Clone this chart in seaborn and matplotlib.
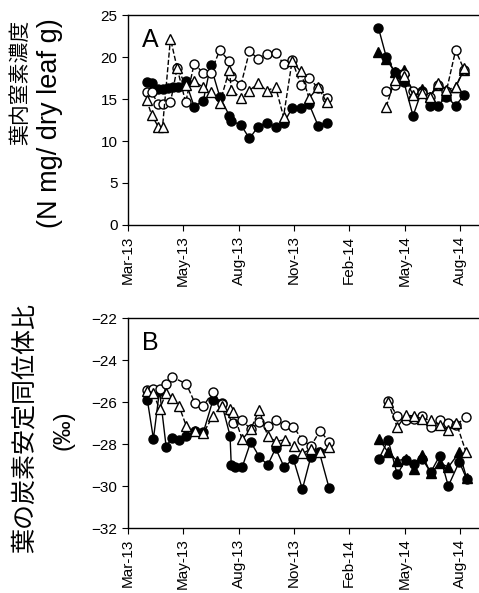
import numpy as np
import pandas as pd
import seaborn as sns
import matplotlib.pyplot as plt
import matplotlib.dates as mdates

# days since 1 Mar 2013
start = pd.Timestamp('2013-03-01')

# --- panel A : leaf nitrogen (N mg / dry leaf g) ---
A_fc_d13 = [31, 39, 50, 57, 66, 74, 83, 95, 109, 124, 136, 151, 167, 170, 186, 200, 214, 228, 243, 256, 270, 284, 298, 313, 327]
A_fc_v13 = [17.0, 16.9, 16.2, 16.2, 16.3, 16.4, 16.4, 17.1, 14.1, 14.8, 19.0, 15.3, 13.0, 12.4, 11.9, 10.3, 11.7, 12.2, 11.7, 12.1, 13.9, 13.9, 14.4, 11.8, 12.2]
A_oc_d13 = [31, 39, 50, 57, 70, 81, 95, 109, 124, 136, 151, 167, 170, 186, 200, 214, 228, 243, 256, 270, 284, 298, 313, 327]
A_oc_v13 = [15.8, 15.8, 14.4, 14.4, 14.6, 18.7, 14.6, 19.2, 18.1, 18.1, 20.8, 19.5, 17.7, 16.7, 20.7, 19.8, 20.4, 20.5, 19.2, 19.7, 16.7, 17.5, 16.3, 15.1]
A_ot_d13 = [31, 39, 50, 57, 70, 81, 95, 109, 124, 136, 151, 167, 170, 186, 200, 214, 228, 243, 256, 270, 284, 298, 313, 327]
A_ot_v13 = [14.9, 13.1, 11.7, 11.7, 22.2, 18.7, 16.7, 17.1, 16.4, 15.8, 14.5, 18.5, 16.1, 15.1, 16.0, 16.9, 16.0, 16.4, 12.9, 19.5, 18.3, 15.1, 16.4, 14.6]

A_d14 = [412, 425, 439, 454, 469, 483, 497, 510, 524, 539, 553]
A_fc_v14 = [23.5, 20.0, 18.2, 17.0, 13.0, 15.9, 14.2, 14.2, 15.3, 14.2, 15.5]
A_ft_v14 = [20.6, 19.8, 18.2, 18.5, 15.6, 16.2, 15.3, 16.7, 15.5, 16.4, 18.5]
A_oc_d14 = [425, 439, 454, 469, 483, 497, 510, 524, 539, 553]
A_oc_v14 = [16.0, 16.7, 18.0, 16.0, 15.7, 15.3, 16.7, 16.0, 20.8, 18.5]
A_ot_v14 = [14.1, 17.3, 17.7, 15.5, 15.7, 15.3, 16.9, 16.1, 16.4, 18.7]

# --- panel B : leaf carbon isotope ratio (permil) ---
B_fc_d13 = [32, 42, 52, 63, 72, 84, 96, 110, 124, 140, 154, 168, 170, 176, 188, 202, 216, 230, 243, 257, 272, 287, 301, 315, 331]
B_fc_v13 = [-25.9, -27.75, -25.45, -28.15, -27.7, -27.8, -27.6, -27.4, -27.45, -25.9, -26.05, -27.6, -29.0, -29.1, -29.1, -27.9, -28.6, -29.0, -28.2, -29.1, -28.7, -30.15, -28.6, -28.4, -30.1]
B_oc_d13 = [32, 42, 52, 63, 72, 96, 110, 124, 140, 154, 173, 188, 202, 216, 230, 244, 258, 272, 287, 301, 316, 331]
B_oc_v13 = [-25.43, -25.37, -25.4, -25.15, -24.8, -25.13, -26.03, -26.2, -25.5, -26.1, -27.02, -26.87, -27.3, -26.95, -27.14, -26.87, -27.08, -27.17, -27.8, -28.1, -27.37, -27.9]
B_ot_d13 = [32, 42, 52, 63, 72, 84, 96, 110, 124, 140, 154, 168, 173, 188, 202, 216, 230, 243, 258, 273, 287, 301, 316, 331]
B_ot_v13 = [-25.48, -25.56, -26.35, -25.56, -25.82, -26.18, -27.14, -27.37, -27.48, -26.66, -26.19, -26.35, -26.47, -27.78, -27.3, -26.37, -27.63, -27.87, -27.8, -28.08, -28.45, -28.24, -28.4, -28.16]

B_d14 = [413, 428, 443, 457, 471, 484, 498, 513, 527, 545, 557]
B_fc_v14 = [-28.7, -27.8, -29.45, -28.75, -28.95, -28.7, -29.35, -28.55, -30.0, -28.85, -29.65]
B_ft_v14 = [-27.75, -28.4, -28.8, -28.7, -29.2, -28.5, -29.4, -28.9, -29.1, -28.4, -29.6]
B_o_d14 = [428, 443, 457, 471, 484, 498, 513, 527, 540, 556]
B_oc_v14 = [-25.95, -26.66, -26.85, -26.8, -26.66, -27.2, -26.85, -27.0, -27.1, -26.7]
B_ot_v14 = [-26.0, -27.2, -26.63, -26.66, -26.8, -26.85, -27.07, -27.35, -26.98, -28.37]

segments = [
    ('A', 'fc', 2013, A_fc_d13, A_fc_v13), ('A', 'fc', 2014, A_d14, A_fc_v14),
    ('A', 'ft', 2014, A_d14, A_ft_v14),
    ('A', 'oc', 2013, A_oc_d13, A_oc_v13), ('A', 'oc', 2014, A_oc_d14, A_oc_v14),
    ('A', 'ot', 2013, A_ot_d13, A_ot_v13), ('A', 'ot', 2014, A_oc_d14, A_ot_v14),
    ('B', 'fc', 2013, B_fc_d13, B_fc_v13), ('B', 'fc', 2014, B_d14, B_fc_v14),
    ('B', 'ft', 2014, B_d14, B_ft_v14),
    ('B', 'oc', 2013, B_oc_d13, B_oc_v13), ('B', 'oc', 2014, B_o_d14, B_oc_v14),
    ('B', 'ot', 2013, B_ot_d13, B_ot_v13), ('B', 'ot', 2014, B_o_d14, B_ot_v14),
]
rows = []
for panel, ser, seg, d, v in segments:
    for di, vi in zip(d, v):
        rows.append((panel, ser, seg, start + pd.Timedelta(days=di), vi))
df = pd.DataFrame(rows, columns=['panel', 'series', 'seg', 'date', 'value'])

styles = {
    'fc': dict(marker='o', markerfacecolor='black', linestyle='-'),
    'ft': dict(marker='^', markerfacecolor='black', linestyle='-'),
    'oc': dict(marker='o', markerfacecolor='white', linestyle='--'),
    'ot': dict(marker='^', markerfacecolor='white', linestyle='--'),
}

sns.set_style('ticks')
plt.rcParams['font.family'] = ['Liberation Sans', 'Noto Sans CJK JP', 'DejaVu Sans']
plt.rcParams['text.color'] = 'black'
plt.rcParams['xtick.color'] = 'black'
plt.rcParams['ytick.color'] = 'black'

fig = plt.figure(figsize=(4.79, 5.93), dpi=100)
axA = fig.add_axes([0.267, 0.6206, 0.74, 0.354])
axB = fig.add_axes([0.267, 0.1096, 0.74, 0.354])

xticks = [start + pd.Timedelta(days=91 * k) for k in range(7)]
for ax, panel in [(axA, 'A'), (axB, 'B')]:
    for ser in ['fc', 'ft', 'oc', 'ot']:
        sub = df[(df.panel == panel) & (df.series == ser)]
        sns.lineplot(data=sub, x='date', y='value', units='seg', estimator=None,
                     color='black', linewidth=1.0, markersize=6.5,
                     markeredgecolor='black', markeredgewidth=1.0, ax=ax,
                     **styles[ser])
    ax.set_xlim(start, start + pd.Timedelta(days=583))
    ax.set_xticks(xticks)
    ax.xaxis.set_major_formatter(mdates.DateFormatter('%b-%y'))
    ax.tick_params(axis='x', rotation=90, labelsize=11, length=4, labelcolor='black')
    ax.tick_params(axis='y', labelsize=11, length=4, labelcolor='black')
    ax.set_xlabel('')
    ax.set_ylabel('')
    ax.spines['right'].set_visible(False)
    for s in ['left', 'bottom', 'top']:
        ax.spines[s].set_color('black')
        ax.spines[s].set_linewidth(1.0)
    ax.text(0.04, 0.94, panel, transform=ax.transAxes, fontsize=18, va='top', ha='left')

axA.set_ylim(0, 25)
axA.set_yticks(range(0, 26, 5))
axB.set_ylim(-32, -22)
axB.set_yticks(range(-32, -21, 2))

# y-axis titles
fig.text(20 / 479, 1 - 82 / 593, '葉内窒素濃度', rotation=90, fontsize=15, ha='center', va='center')
fig.text(50 / 479, 1 - 123 / 593, '(N mg/ dry leaf g)', rotation=90, fontsize=19.5, ha='center', va='center')
fig.text(25 / 479, 1 - 428 / 593, '葉の炭素安定同位体比', rotation=90, fontsize=18, ha='center', va='center')
fig.text(63 / 479, 1 - 430 / 593, '(‰)', rotation=90, fontsize=17, ha='center', va='center')

fig.savefig('out.png', dpi=100)
